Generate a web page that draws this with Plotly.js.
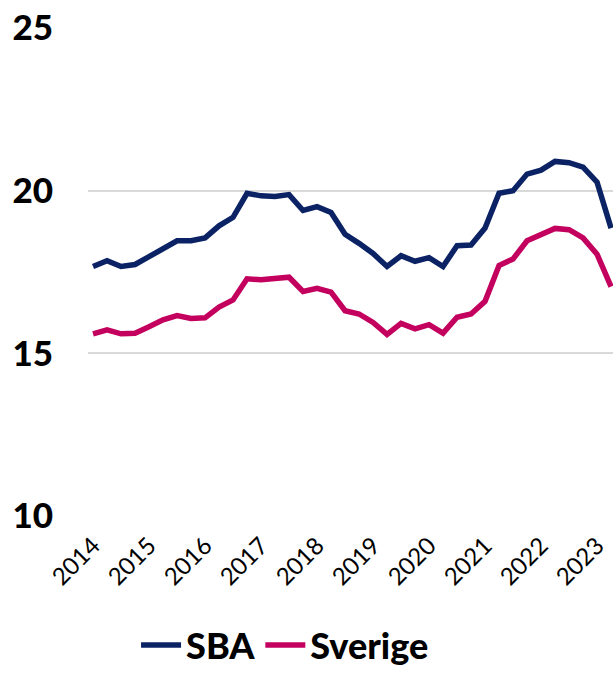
<!DOCTYPE html>
<html>
<head>
<meta charset="utf-8">
<script src="https://cdn.plot.ly/plotly-3.0.1.min.js"></script>
<style>html,body{margin:0;padding:0;background:#fff;}#chart{width:613px;height:675px;}</style>
</head>
<body>
<div id="chart"></div>
<script>
const quarters = [
  "2014 K1","2014 K2","2014 K3","2014 K4",
  "2015 K1","2015 K2","2015 K3","2015 K4",
  "2016 K1","2016 K2","2016 K3","2016 K4",
  "2017 K1","2017 K2","2017 K3","2017 K4",
  "2018 K1","2018 K2","2018 K3","2018 K4",
  "2019 K1","2019 K2","2019 K3","2019 K4",
  "2020 K1","2020 K2","2020 K3","2020 K4",
  "2021 K1","2021 K2","2021 K3","2021 K4",
  "2022 K1","2022 K2","2022 K3","2022 K4",
  "2023 K1","2023 K2"
];
const sba = [
  17.67,17.85,17.67,17.73,17.97,18.24,18.46,18.46,18.55,18.92,
  19.18,19.92,19.84,19.82,19.88,19.39,19.51,19.33,18.66,18.38,
  18.07,17.67,18.00,17.83,17.94,17.67,18.31,18.33,18.85,19.92,
  20.00,20.51,20.63,20.90,20.86,20.72,20.26,18.85
];
const sverige = [
  15.60,15.72,15.60,15.62,15.82,16.03,16.16,16.07,16.09,16.42,
  16.64,17.29,17.26,17.28,17.34,16.90,17.00,16.88,16.31,16.21,
  15.95,15.58,15.92,15.75,15.88,15.62,16.11,16.21,16.60,17.70,
  17.90,18.46,18.64,18.84,18.80,18.55,18.05,17.05
];
const tickVals = ["2014 K1","2015 K1","2016 K1","2017 K1","2018 K1","2019 K1","2020 K1","2021 K1","2022 K1","2023 K1"];
const tickText = ["2014","2015","2016","2017","2018","2019","2020","2021","2022","2023"];
const yTicks = [10,15,20,25];

const traces = [
  {x: quarters, y: sba, name: "SBA", type: "scatter", mode: "lines",
   line: {color: "#0b2365", width: 5.5}},
  {x: quarters, y: sverige, name: "Sverige", type: "scatter", mode: "lines",
   line: {color: "#c4005f", width: 5.5}}
];

const layout = {
  width: 613, height: 675,
  margin: {l: 88, r: 0, t: 28, b: 159},
  paper_bgcolor: "#ffffff", plot_bgcolor: "#ffffff",
  showlegend: true,
  legend: {orientation: "h", x: 0.465, xref: "container", xanchor: "center",
           y: -0.014, yref: "container", yanchor: "bottom",
           font: {family: "Lato, sans-serif", size: 36, color: "#000", weight: 900},
           itemwidth: 40, tracegroupgap: 0},
  xaxis: {type: "category", range: [-0.36, 37.14], tickmode: "array",
          tickvals: tickVals, ticktext: tickText, tickangle: -45, automargin: false,
          showgrid: false, zeroline: false, showline: false, ticks: "",
          ticklabelstandoff: 10,
          tickfont: {family: "Lato, sans-serif", size: 24, color: "#000"}},
  yaxis: {range: [10, 25], tickmode: "array", tickvals: yTicks, automargin: false,
          showgrid: true, gridcolor: "#d9d9d9", gridwidth: 2,
          zeroline: false, showline: false, ticks: "", ticklabelstandoff: 34,
          tickfont: {family: "Lato, sans-serif", size: 35, color: "#000", weight: 900}}
};

Plotly.newPlot("chart", traces, layout, {displayModeBar: false, staticPlot: true});
</script>
</body>
</html>
